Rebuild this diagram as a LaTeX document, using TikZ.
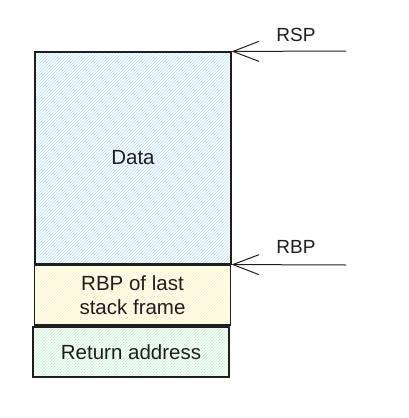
\documentclass[tikz,border=0pt]{standalone}
\usepackage{fontspec}
\setmainfont{Liberation Sans}
\usetikzlibrary{patterns,arrows.meta}
\definecolor{ink}{HTML}{1E1E1E}
\definecolor{hblue}{HTML}{B5DEFF}
\definecolor{hyellow}{HTML}{FFEFAA}
\definecolor{hgreen}{HTML}{BDF3C4}
\begin{document}
\begin{tikzpicture}[x=1pt,y=-1pt,
  cell/.style={draw=ink,line width=1.1pt,inner sep=0pt,align=center,font=\fontsize{20.5}{24}\selectfont,text=ink},
  lbl/.style={font=\fontsize{19}{22}\selectfont,text=ink},
  ptr/.style={draw=ink,line width=1pt,-{Straight Barb[length=26pt,width=20pt,line width=1pt]}}]
\useasboundingbox (0,0) rectangle (409,418);
\node[cell,minimum width=196pt,minimum height=212pt,pattern=north east lines,pattern color=hblue] (data) at (133,158) {Data};
\node[cell,minimum width=196pt,minimum height=60pt,pattern=north east lines,pattern color=hyellow] (rbpl) at (132.5,295) {RBP of last\\stack frame};
\node[cell,minimum width=196pt,minimum height=50pt,pattern=north east lines,pattern color=hgreen] (ret) at (131,352) {Return address};
\coordinate (rspstart) at (346,51);
\coordinate (rbpstart) at (346,265);
\draw[ptr] (rspstart) -- (data.north east);
\draw[ptr] (rbpstart) -- (data.south east);
\node[lbl] (rsp) at (296,35) {RSP};
\node[lbl] (rbp) at (296,247) {RBP};
\end{tikzpicture}
\end{document}
